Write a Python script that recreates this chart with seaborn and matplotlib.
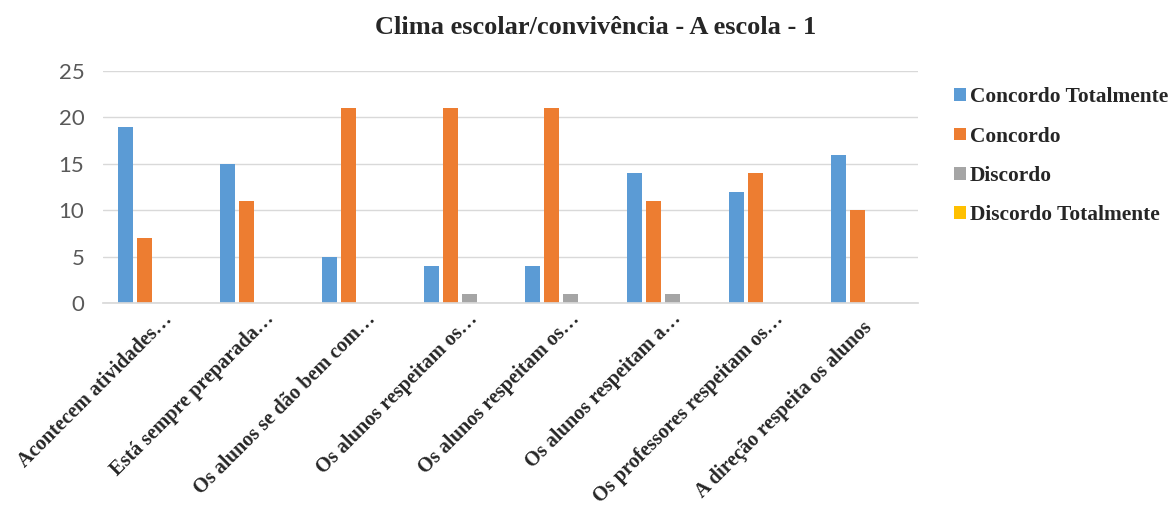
import numpy as np
import pandas as pd
import matplotlib
matplotlib.use("Agg")
import matplotlib.pyplot as plt
import matplotlib.transforms as mtransforms
import seaborn as sns
from matplotlib.patches import Patch

categories = [
    "Acontecem atividades…",
    "Está sempre preparada…",
    "Os alunos se dão bem com…",
    "Os alunos respeitam os…",
    "Os alunos respeitam os…",
    "Os alunos respeitam a…",
    "Os professores respeitam os…",
    "A direção respeita os alunos",
]
series_names = ["Concordo Totalmente", "Concordo", "Discordo", "Discordo Totalmente"]
concordo_totalmente = [19, 15, 5, 4, 4, 14, 12, 16]
concordo = [7, 11, 21, 21, 21, 11, 14, 10]
discordo = [0, 0, 0, 1, 1, 1, 0, 0]
discordo_totalmente = [0, 0, 0, 0, 0, 0, 0, 0]
colors = ["#5B9BD5", "#ED7D31", "#A5A5A5", "#FFC000"]

rows = []
for series, vals in zip(series_names,
                        [concordo_totalmente, concordo, discordo, discordo_totalmente]):
    for i, v in enumerate(vals):
        rows.append({"pos": i, "series": series, "value": v})
df = pd.DataFrame(rows)

sns.set_theme(style="white")
plt.rcParams["font.family"] = ["Liberation Serif", "DejaVu Serif"]

fig = plt.figure(figsize=(11.72, 5.08), dpi=100)
ax = fig.add_axes([103 / 1172, 1 - 303 / 508, 815 / 1172, 232 / 508])

sns.barplot(data=df, x="pos", y="value", hue="series", hue_order=series_names,
            palette=colors, saturation=1, width=0.745, gap=0.21, linewidth=0,
            ax=ax, legend=False, errorbar=None)

ax.set_ylim(0, 25)
ax.set_xlim(-0.5, len(categories) - 0.5)
ax.set_yticks([0, 5, 10, 15, 20, 25])
ax.yaxis.grid(True, color="#D9D9D9", linewidth=1)
ax.set_axisbelow(True)
for s in ["top", "right", "left"]:
    ax.spines[s].set_visible(False)
ax.spines["bottom"].set_color("#D9D9D9")
ax.tick_params(axis="both", length=0)
ax.set_xlabel("")
ax.set_ylabel("")

ax.set_yticklabels([str(t) for t in [0, 5, 10, 15, 20, 25]],
                   fontfamily="Lato", fontsize=16, color="#595959")
ax.tick_params(axis="y", pad=13.5)
ax.set_xticks(range(len(categories)))
ax.set_xticklabels(categories, rotation=45, ha="right", rotation_mode="anchor",
                   fontsize=14.6, fontweight="bold", color="#262626")
ax.tick_params(axis="x", pad=8)

# truncated labels hang their ellipsis past the tick; full labels sit a bit lower
for label, text in zip(ax.get_xticklabels(), categories):
    if text.endswith("…"):
        dx, dy = 8, 5
    else:
        dx, dy = -5, -4
    offset = mtransforms.ScaledTranslation(dx / 100, dy / 100, fig.dpi_scale_trans)
    label.set_transform(label.get_transform() + offset)

fig.text(0.508, 0.945, "Clima escolar/convivência - A escola - 1",
         ha="center", va="center", fontsize=19, fontweight="bold", color="#262626")

handles = [Patch(facecolor=c, edgecolor="none") for c in colors]
fig.legend(handles, series_names, loc="upper left", bbox_to_anchor=(0.7975, 0.866),
           frameon=False, handlelength=0.55, handleheight=0.55, handletextpad=0.2,
           labelspacing=0.9, prop={"family": "Liberation Serif", "weight": "bold",
                                   "size": 15.4})

fig.savefig("out.png", dpi=100)
